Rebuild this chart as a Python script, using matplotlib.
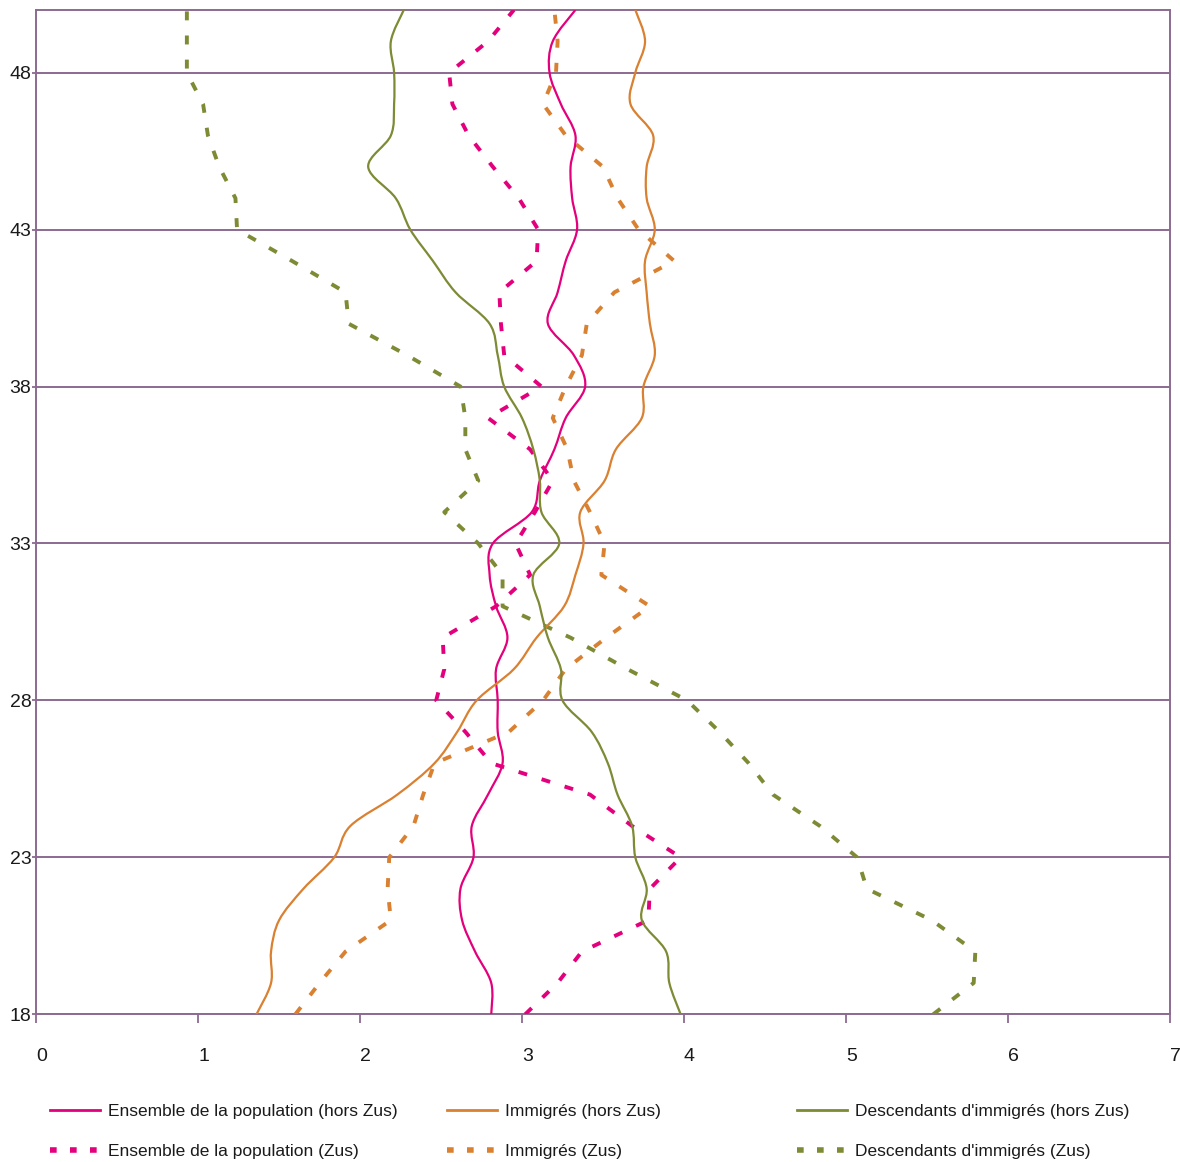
import matplotlib
matplotlib.use('Agg')
import matplotlib.pyplot as plt
import matplotlib.transforms as mtransforms
from matplotlib.path import Path
from matplotlib.patches import PathPatch
from matplotlib.lines import Line2D
import numpy as np

# ---------------- data (age on the vertical axis) ----------------
ages = list(range(18, 51))

ensemble_hors_zus = [2.81, 2.81, 2.71, 2.63, 2.62, 2.70, 2.69, 2.79, 2.88, 2.85, 2.85,
                     2.84, 2.91, 2.84, 2.80, 2.82, 3.06, 3.11, 3.20, 3.27, 3.39, 3.32,
                     3.16, 3.22, 3.27, 3.34, 3.31, 3.30, 3.33, 3.24, 3.17, 3.19, 3.33]
immigres_hors_zus = [1.36, 1.45, 1.45, 1.50, 1.65, 1.84, 1.94, 2.23, 2.46, 2.60, 2.72,
                     2.95, 3.09, 3.26, 3.33, 3.38, 3.36, 3.51, 3.58, 3.74, 3.75, 3.82,
                     3.79, 3.77, 3.76, 3.82, 3.77, 3.77, 3.81, 3.67, 3.70, 3.76, 3.70]
descendants_hors_zus = [3.98, 3.91, 3.89, 3.74, 3.77, 3.70, 3.68, 3.59, 3.53, 3.43, 3.25,
                        3.24, 3.16, 3.11, 3.07, 3.23, 3.12, 3.11, 3.07, 3.00, 2.89, 2.85,
                        2.80, 2.59, 2.45, 2.31, 2.22, 2.05, 2.19, 2.21, 2.21, 2.19, 2.27]
ensemble_zus = [3.02, 3.22, 3.37, 3.78, 3.79, 3.98, 3.68, 3.42, 2.81, 2.65, 2.47,
                2.52, 2.51, 2.84, 3.05, 2.96, 3.08, 3.19, 3.05, 2.79, 3.12, 2.89,
                2.87, 2.86, 3.09, 3.10, 2.98, 2.82, 2.67, 2.57, 2.55, 2.79, 2.95]
immigres_zus = [1.60, 1.75, 1.91, 2.19, 2.17, 2.18, 2.33, 2.39, 2.46, 2.92, 3.13,
                3.27, 3.52, 3.79, 3.49, 3.51, 3.42, 3.32, 3.28, 3.19, 3.27, 3.37,
                3.40, 3.57, 3.94, 3.72, 3.59, 3.50, 3.27, 3.13, 3.21, 3.22, 3.20]
descendants_zus = [5.54, 5.79, 5.80, 5.53, 5.13, 5.07, 4.84, 4.55, 4.40, 4.22, 4.02,
                   3.65, 3.30, 2.88, 2.88, 2.73, 2.52, 2.73, 2.65, 2.65, 2.62, 2.29,
                   1.93, 1.91, 1.58, 1.24, 1.23, 1.13, 1.06, 1.03, 0.93, 0.93, 0.93]

labels_hors = ["Ensemble de la population (hors Zus)", "Immigrés (hors Zus)",
               "Descendants d'immigrés (hors Zus)"]
labels_zus = ["Ensemble de la population (Zus)", "Immigrés (Zus)",
              "Descendants d'immigrés (Zus)"]
x_ticks = [0, 1, 2, 3, 4, 5, 6, 7]
y_ticks = [18, 23, 28, 33, 38, 43, 48]

# ---------------- style ----------------
PINK = '#E4007C'
ORANGE = '#D98031'
GREEN = '#7F8A35'
GRID = '#8C6A92'
TXT = '#1a1a1a'
plt.rcParams['font.family'] = ['Liberation Sans', 'DejaVu Sans']

W, H = 1180, 1162
fig = plt.figure(figsize=(W / 100, H / 100), dpi=100)
x0, x1 = 36.3, 1169.6
y_top, y_bot = 9.9, 1014.3
ax = fig.add_axes([x0 / W, 1 - y_bot / H, (x1 - x0) / W, (y_bot - y_top) / H])

ax.set_xlim(0, 7)
ax.set_ylim(18, 50)
ax.set_xticks(x_ticks)
ax.set_yticks(y_ticks)
ax.grid(axis='y', color=GRID, linewidth=1.4, zorder=0)
ax.set_axisbelow(True)
for s in ax.spines.values():
    s.set_color(GRID)
    s.set_linewidth(1.4)
ax.tick_params(axis='x', direction='out', length=6.5, width=1.3, color=GRID,
               pad=18, labelsize=14, labelcolor=TXT)
ax.tick_params(axis='y', direction='out', length=2.6, width=1.3, color=GRID,
               pad=1, labelsize=14, labelcolor=TXT)


def smooth_path(xs, ys):
    pts = np.column_stack([xs, ys]).astype(float)
    n = len(pts)
    verts = [pts[0]]
    codes = [Path.MOVETO]
    for i in range(n - 1):
        p0 = pts[i - 1] if i > 0 else pts[i]
        p1 = pts[i]
        p2 = pts[i + 1]
        p3 = pts[i + 2] if i + 2 < n else pts[i + 1]
        verts += [p1 + (p2 - p0) / 6.0, p2 - (p3 - p1) / 6.0, p2]
        codes += [Path.CURVE4] * 3
    return Path(verts, codes)


SOLID_LW = 1.6
DASH_LW = 2.8
DASH = (0, (2.3, 3.9))
LEG_DASH_LW = 4.0
LEG_DASH = (0, (1.2, 2.4))

series_zus = [ensemble_zus, immigres_zus, descendants_zus]
series_hors = [ensemble_hors_zus, immigres_hors_zus, descendants_hors_zus]
colors = [PINK, ORANGE, GREEN]

for vals, c in zip(series_zus, colors):
    ax.plot(vals, ages, color=c, lw=DASH_LW, linestyle=DASH,
            dash_capstyle='butt', zorder=3)
for vals, c in zip(series_hors, colors):
    patch = PathPatch(smooth_path(vals, ages), fill=False, edgecolor=c,
                      lw=SOLID_LW, zorder=4)
    ax.add_patch(patch)

# shift x tick labels a little to the right like the original
offset = mtransforms.ScaledTranslation(5.5 / 100, 0, fig.dpi_scale_trans)
for lbl in ax.get_xticklabels():
    lbl.set_transform(lbl.get_transform() + offset)

# ---------------- legend: three columns, two rows ----------------
col_x = [50, 447, 797]
fs = 12.5
fs_px = fs * 100 / 72
for cx, c, lh, lz in zip(col_x, colors, labels_hors, labels_zus):
    handles = [Line2D([], [], color=c, lw=SOLID_LW + 0.4),
               Line2D([], [], color=c, lw=LEG_DASH_LW, linestyle=LEG_DASH,
                      dash_capstyle='butt')]
    fig.legend(handles, [lh, lz], loc='upper left',
               bbox_to_anchor=(cx / W, 1 - 1104 / H),
               frameon=False, fontsize=fs, borderpad=0, borderaxespad=0,
               handlelength=50 / fs_px, handletextpad=8 / fs_px,
               labelspacing=1.42, labelcolor=TXT)

fig.savefig('out.png', dpi=100)
